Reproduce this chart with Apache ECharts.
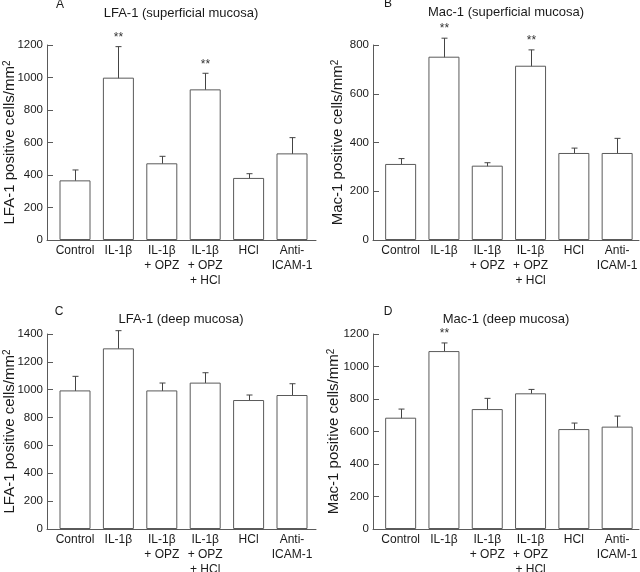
<!DOCTYPE html>
<html>
<head>
<meta charset="utf-8">
<script src="https://cdn.jsdelivr.net/npm/echarts@6/dist/echarts.min.js"></script>
<style>
html,body{margin:0;padding:0;background:#fff;}
#chart{width:640px;height:572px;}
</style>
</head>
<body>
<div id="chart"></div>
<script>
// ---- data ----
const categories = ['Control', 'IL-1β', 'IL-1β\n+ OPZ', 'IL-1β\n+ OPZ\n+ HCl', 'HCl', 'Anti-\nICAM-1'];

const lfaSupMean = [367, 999, 472, 927, 382, 533];
const lfaSupLow  = [300, 800, 431, 827, 355, 445];
const lfaSupHigh = [431, 1190, 515, 1026, 408, 630];
const lfaSupSig  = [0, 1, 0, 1, 0, 0];

const macSupMean = [312, 752, 305, 715, 357, 357];
const macSupLow  = [290, 674, 290, 648, 329, 291];
const macSupHigh = [334, 828, 317, 780, 377, 417];
const macSupSig  = [0, 1, 0, 1, 0, 0];

const lfaDeepMean = [995, 1297, 995, 1051, 926, 962];
const lfaDeepLow  = [881, 1170, 929, 979, 888, 883];
const lfaDeepHigh = [1096, 1424, 1048, 1122, 962, 1043];
const lfaDeepSig  = [0, 0, 0, 0, 0, 0];

const macDeepMean = [685, 1095, 738, 835, 615, 630];
const macDeepLow  = [624, 1038, 673, 806, 578, 560];
const macDeepHigh = [738, 1145, 804, 859, 652, 695];
const macDeepSig  = [0, 1, 0, 0, 0, 0];

const panelLetters = ['A', 'B', 'C', 'D'];
const panelTitles = ['LFA-1 (superficial mucosa)', 'Mac-1 (superficial mucosa)', 'LFA-1 (deep mucosa)', 'Mac-1 (deep mucosa)'];
const yNames = ['LFA-1 positive cells/mm{sup|2}', 'Mac-1 positive cells/mm{sup|2}', 'LFA-1 positive cells/mm{sup|2}', 'Mac-1 positive cells/mm{sup|2}'];
const yMax = [1200, 800, 1400, 1200];
const yInterval = 200;

// ---- layout ----
const FONT = 'Liberation Sans, Arial, Helvetica, sans-serif';
const LINE = '#5a5a5a';
const TEXT = '#1a1a1a';
const layout = [
  {frameLeft: 47, frameWidth: 269, dataLeft: 53.3, dataWidth: 260.4, top: 45, titleX: 181, titleY: 13, letterX: 60, letterY: 5, nameGap: 30},
  {frameLeft: 373, frameWidth: 266, dataLeft: 379, dataWidth: 259.8, top: 45, titleX: 506, titleY: 12, letterX: 388, letterY: 4, nameGap: 28},
  {frameLeft: 47, frameWidth: 269, dataLeft: 53.3, dataWidth: 260.4, top: 334, titleX: 181, titleY: 319, letterX: 59, letterY: 312, nameGap: 30},
  {frameLeft: 373, frameWidth: 266, dataLeft: 379, dataWidth: 259.8, top: 334, titleX: 506, titleY: 319, letterX: 388, letterY: 312, nameGap: 32}
];
const plotH = 195;

const panels = [
  {mean: lfaSupMean, low: lfaSupLow, high: lfaSupHigh, sig: lfaSupSig},
  {mean: macSupMean, low: macSupLow, high: macSupHigh, sig: macSupSig},
  {mean: lfaDeepMean, low: lfaDeepLow, high: lfaDeepHigh, sig: lfaDeepSig},
  {mean: macDeepMean, low: macDeepLow, high: macDeepHigh, sig: macDeepSig}
];

const grid = [], xAxis = [], yAxis = [], series = [], graphic = [];

panels.forEach((p, k) => {
  const L = layout[k];
  grid.push({left: L.frameLeft, top: L.top, width: L.frameWidth, height: plotH, containLabel: false, outerBoundsMode: 'none'});
  grid.push({left: L.dataLeft, top: L.top, width: L.dataWidth, height: plotH, containLabel: false, outerBoundsMode: 'none'});
  const gF = 2 * k, gD = 2 * k + 1;

  xAxis.push({
    gridIndex: gF, type: 'value', min: 0, max: 1,
    axisLine: {show: true, lineStyle: {color: LINE, width: 1}},
    axisTick: {show: false}, axisLabel: {show: false}, splitLine: {show: false}
  });
  xAxis.push({
    gridIndex: gD, type: 'category', data: categories,
    axisLine: {show: false}, axisTick: {show: false}, splitLine: {show: false},
    axisLabel: {
      interval: 0, hideOverlap: false, color: TEXT, fontFamily: FONT, fontSize: 12, lineHeight: 15, margin: 3
    }
  });
  yAxis.push({
    gridIndex: gF, type: 'value', min: 0, max: yMax[k], interval: yInterval,
    name: yNames[k], nameLocation: 'middle', nameGap: L.nameGap, nameRotate: 90, nameMoveOverlap: false,
    nameTextStyle: {
      color: TEXT, fontFamily: FONT, fontSize: 15,
      rich: {sup: {fontSize: 10, verticalAlign: 'top', lineHeight: 15, color: TEXT, fontFamily: FONT, padding: [0, 0, 6, 0]}}
    },
    axisLine: {show: true, lineStyle: {color: LINE, width: 1}},
    axisTick: {show: true, inside: true, length: 6, lineStyle: {color: LINE, width: 1}},
    axisLabel: {color: TEXT, fontFamily: FONT, fontSize: 11.5, margin: 4, formatter: v => String(v)},
    splitLine: {show: false}
  });
  yAxis.push({
    gridIndex: gD, type: 'value', min: 0, max: yMax[k], interval: yInterval,
    axisLine: {show: false}, axisTick: {show: false}, axisLabel: {show: false}, splitLine: {show: false}
  });

  series.push({
    type: 'bar', xAxisIndex: gD, yAxisIndex: gD,
    data: p.mean, barWidth: 31,
    itemStyle: {color: '#ffffff', borderColor: LINE, borderWidth: 1},
    silent: true, animation: false
  });

  const errData = p.mean.map((m, i) => [i, p.low[i], p.high[i], p.sig[i]]);
  series.push({
    type: 'custom', xAxisIndex: gD, yAxisIndex: gD,
    data: errData, animation: false, silent: true,
    encode: {x: 0, y: [1, 2]},
    renderItem: function (params, api) {
      const i = api.value(0);
      const lo = api.coord([i, api.value(1)]);
      const hi = api.coord([i, api.value(2)]);
      const x = Math.round(lo[0]) + 0.5;
      const cw = 3;
      const children = [
        {type: 'line', shape: {x1: x, y1: lo[1], x2: x, y2: hi[1]}, style: {stroke: '#444', lineWidth: 1}},
        {type: 'line', shape: {x1: x - cw, y1: lo[1], x2: x + cw, y2: lo[1]}, style: {stroke: '#444', lineWidth: 1}},
        {type: 'line', shape: {x1: x - cw, y1: hi[1], x2: x + cw, y2: hi[1]}, style: {stroke: '#444', lineWidth: 1}}
      ];
      if (api.value(3)) {
        children.push({
          type: 'text', x: x, y: hi[1] - 9,
          style: {text: '**', fill: '#333', font: '12px ' + FONT, textAlign: 'center', textVerticalAlign: 'middle'}
        });
      }
      return {type: 'group', children: children};
    }
  });

  graphic.push({
    type: 'text', x: L.titleX, y: L.titleY,
    style: {text: panelTitles[k], fill: TEXT, font: '13px ' + FONT, textAlign: 'center', textVerticalAlign: 'middle'}
  });
  graphic.push({
    type: 'text', x: L.letterX, y: L.letterY,
    style: {text: panelLetters[k], fill: TEXT, font: '12px ' + FONT, textAlign: 'center', textVerticalAlign: 'middle'}
  });
});

const chart = echarts.init(document.getElementById('chart'), null, {renderer: 'canvas'});
chart.setOption({
  backgroundColor: '#ffffff',
  animation: false,
  grid: grid, xAxis: xAxis, yAxis: yAxis, series: series, graphic: graphic
});
</script>
</body>
</html>
